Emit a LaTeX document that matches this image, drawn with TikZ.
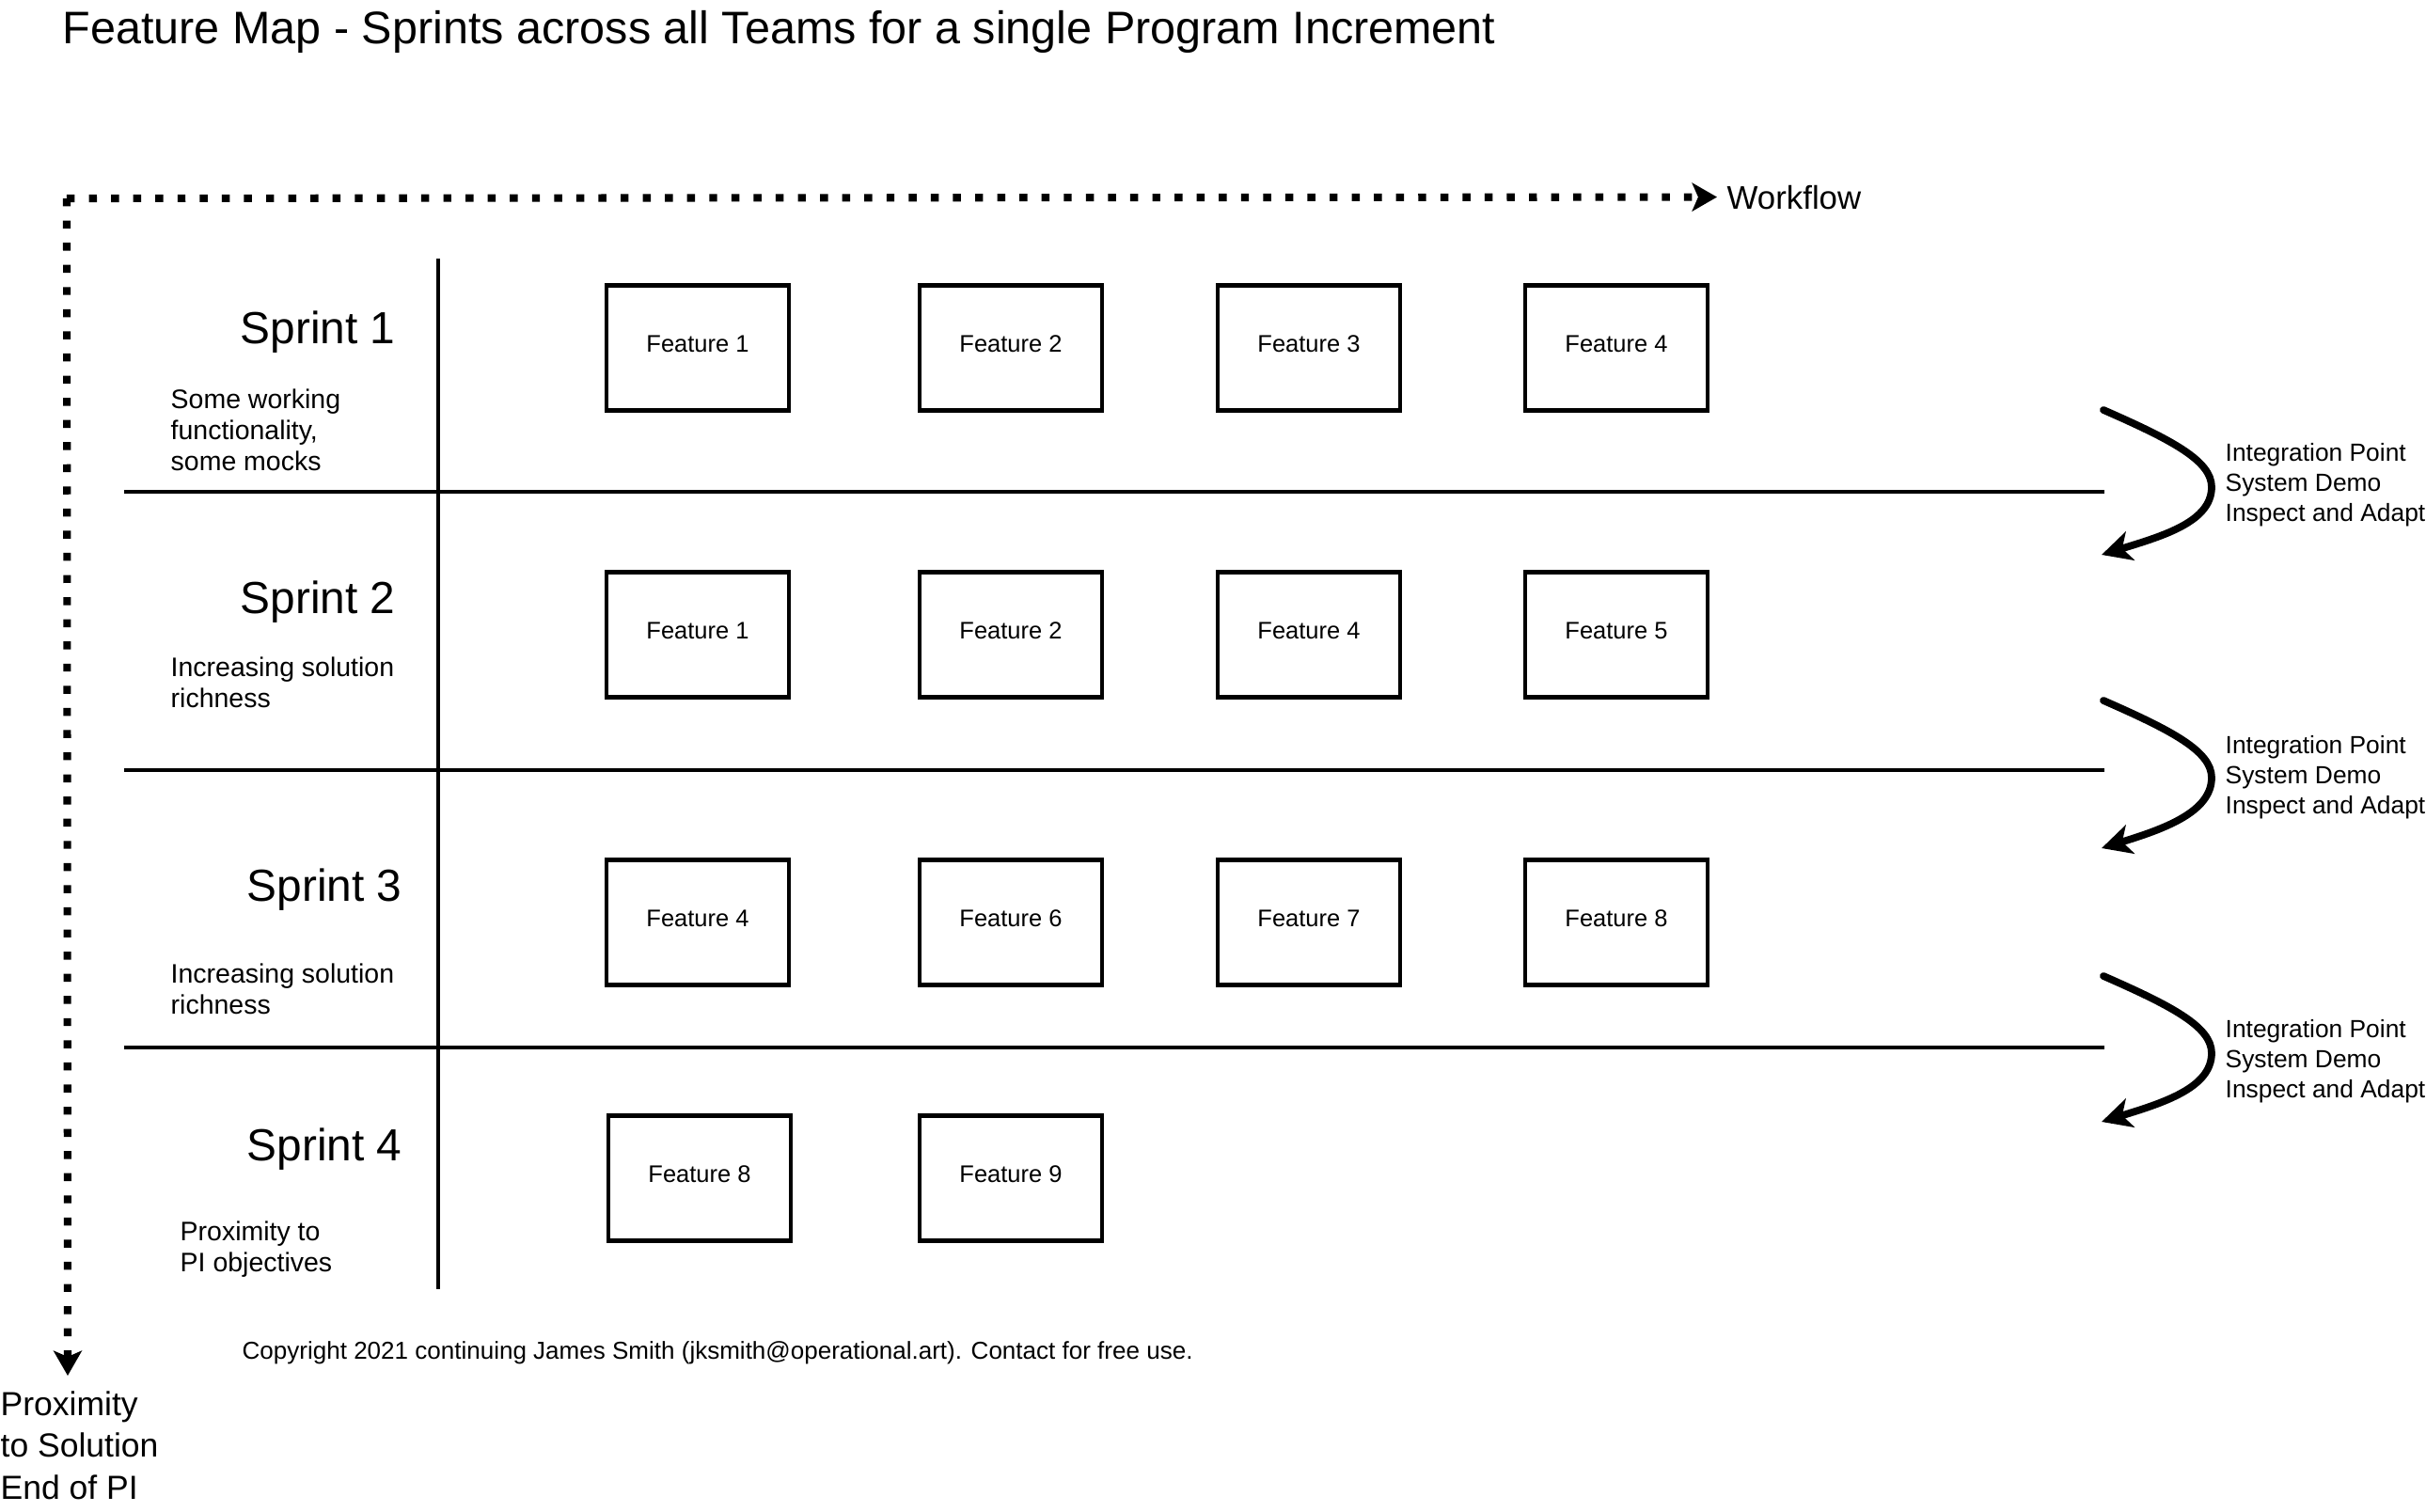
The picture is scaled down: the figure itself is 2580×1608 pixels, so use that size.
\documentclass[tikz,border=0pt]{standalone}
\usepackage{fontspec}
\setmainfont{Liberation Sans}
\usetikzlibrary{arrows.meta}
\begin{document}
\begin{tikzpicture}[x=0.01cm,y=-0.01cm,
  feature/.style={draw, line width=1.3pt, minimum width=1.94cm, minimum height=1.33cm,
    inner sep=0pt, text depth=0.08cm, font=\fontsize{7.25}{9}\selectfont},
  sprintlabel/.style={anchor=base west, inner sep=0pt, font=\fontsize{13.6}{16}\selectfont},
  note/.style={anchor=west, align=left, inner sep=0pt, font=\fontsize{8.1}{9.4}\selectfont},
  ipnote/.style={anchor=west, align=left, inner sep=0pt, font=\fontsize{7.5}{9.1}\selectfont},
  lane/.style={line width=0.95pt},
  axis/.style={line width=2.3pt, dash pattern=on 2.4pt off 4.3pt,
    -{Stealth[length=7.5pt,width=8.5pt,inset=1.8pt]}},
  loop/.style={line width=2.2pt, line cap=round,
    -{Stealth[length=9pt,width=9pt,inset=2.5pt]}}
]
\useasboundingbox (0,0) rectangle (2580,1608);

% title
\node[anchor=base west, inner sep=0pt, font=\fontsize{13.8}{16}\selectfont] (title) at (66,46)
  {Feature Map - Sprints across all Teams for a single Program Increment};

% axes
\coordinate (origin) at (71,211);
\node[anchor=base west, inner xsep=2.85pt, inner ysep=0pt, font=\fontsize{9.9}{12}\selectfont] (wf) at (1826,222) {Workflow};
\node[anchor=north west, align=left, inner sep=0pt, font=\fontsize{10.1}{12.6}\selectfont] (prox) at (0,1479)
  {Proximity\\to Solution\\End of PI};
\coordinate (proxtip) at (72,1463);
\draw[axis] (origin) -- (wf.west);
\draw[axis] (origin) -- (proxtip);

% sprint lanes
\draw[lane] (466,275) -- (466,1371);
\foreach \y in {523,819,1114}
  \draw[lane] (132,\y) -- (2238,\y);

% sprint labels
\node[sprintlabel] (s1) at (255,365) {Sprint 1};
\node[sprintlabel] (s2) at (255,652) {Sprint 2};
\node[sprintlabel] (s3) at (262,958) {Sprint 3};
\node[sprintlabel] (s4) at (262,1234) {Sprint 4};

\node[note] (d1) at (181,457) {Some working\\functionality,\\some mocks};
\node[note] (d2) at (181,726) {Increasing solution\\richness};
\node[note] (d3) at (181,1052) {Increasing solution\\richness};
\node[note] (d4) at (191,1329) {Proximity to\\PI objectives};

% features
\node[feature] (f11) at (742,370) {Feature 1};
\node[feature] (f12) at (1075,370) {Feature 2};
\node[feature] (f13) at (1392,370) {Feature 3};
\node[feature] (f14) at (1719,370) {Feature 4};

\node[feature] (f21) at (742,675) {Feature 1};
\node[feature] (f22) at (1075,675) {Feature 2};
\node[feature] (f23) at (1392,675) {Feature 4};
\node[feature] (f24) at (1719,675) {Feature 5};

\node[feature] (f31) at (742,981) {Feature 4};
\node[feature] (f32) at (1075,981) {Feature 6};
\node[feature] (f33) at (1392,981) {Feature 7};
\node[feature] (f34) at (1719,981) {Feature 8};

\node[feature] (f41) at (744,1253) {Feature 8};
\node[feature] (f42) at (1075,1253) {Feature 9};

% integration points
\foreach \s/\e/\t [count=\i] in {436/590/516, 745/902/827, 1038/1193/1129} {
  \coordinate (ip\i-start) at (2237,\s);
  \coordinate (ip\i-end) at (2235,\e);
  \draw[loop] (ip\i-start) .. controls +(73,32) and +(0,-28) .. ++(115,82)
     .. controls +(0,37) and +(65,-20) .. (ip\i-end);
  \node[ipnote] (ip\i) at (2366,\t) {Integration Point\\System Demo\\Inspect and Adapt};
}

% footer
\node[anchor=west, inner sep=0pt, font=\fontsize{7.4}{9}\selectfont] (copy) at (257,1439)
  {Copyright 2021 continuing James Smith (jksmith@operational.art). Contact for free use.};
\end{tikzpicture}
\end{document}
